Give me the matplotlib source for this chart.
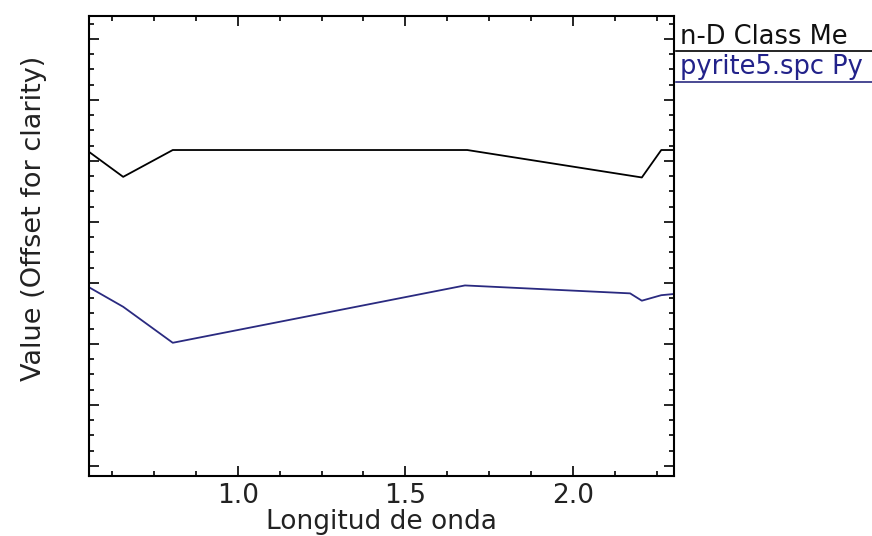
import matplotlib
matplotlib.use('Agg')
import matplotlib.pyplot as plt
from matplotlib.lines import Line2D
from matplotlib.ticker import MultipleLocator, NullFormatter

# spectra (wavelength in um, offset values)
wl_class = [0.556, 0.658, 0.806, 1.685, 2.206, 2.264, 2.302]
val_class = [0.715, 0.674, 0.718, 0.718, 0.673, 0.718, 0.718]

wl_pyrite = [0.556, 0.658, 0.806, 1.678, 2.171, 2.206, 2.264, 2.302]
val_pyrite = [0.493, 0.461, 0.402, 0.496, 0.483, 0.471, 0.480, 0.482]

# legend entries as far as they show in the window
legend_names = ['n-D Class Me', 'pyrite5.spc Py']
line_colors = ['#000000', '#2a2a80']
text_colors = ['#111111', '#22228a']
xticks = [1.0, 1.5, 2.0]

plt.rcParams['font.family'] = ['DejaVu Sans']

fig = plt.figure(figsize=(8.72, 5.36), dpi=100)
ax = fig.add_axes([89 / 872, 60 / 536, 585 / 872, 460 / 536])

ax.plot(wl_class, val_class, color=line_colors[0], lw=1.3)
ax.plot(wl_pyrite, val_pyrite, color=line_colors[1], lw=1.3)

ax.set_xlim(0.556, 2.302)
ax.set_ylim(0.1836, 0.9377)

ax.set_xticks(xticks)
ax.set_xticklabels(['%.1f' % t for t in xticks])
ax.xaxis.set_minor_locator(MultipleLocator(0.125))
ax.yaxis.set_major_locator(MultipleLocator(0.1))
ax.yaxis.set_minor_locator(MultipleLocator(0.025))
ax.yaxis.set_major_formatter(NullFormatter())

ax.tick_params(which='both', direction='in', top=True, right=True,
               width=1.2, color='black')
ax.tick_params(which='major', length=7.5, labelsize=19, pad=5,
               labelcolor='#222222')
ax.tick_params(which='minor', length=3.8)
for s in ax.spines.values():
    s.set_linewidth(1.5)

ax.set_xlabel('Longitud de onda', fontsize=19, color='#222222', labelpad=0)
ax.set_ylabel('Value (Offset for clarity)', fontsize=19.5, color='#222222')
ax.yaxis.set_label_coords(-0.094, 0.561)
ax.yaxis.label.set_va('center')

# legend entries at the right, underlined
ys = [37, 67]
uls = [50.7, 81.7]
for name, tc, lc, y, u in zip(legend_names, text_colors, line_colors, ys, uls):
    fig.text(680 / 872, 1 - y / 536, name, fontsize=18.5, color=tc,
             ha='left', va='center')
    fig.add_artist(Line2D([676 / 872, 1.0], [1 - u / 536, 1 - u / 536],
                          transform=fig.transFigure, color=lc, lw=1.2))

fig.savefig('out.png', dpi=100)
